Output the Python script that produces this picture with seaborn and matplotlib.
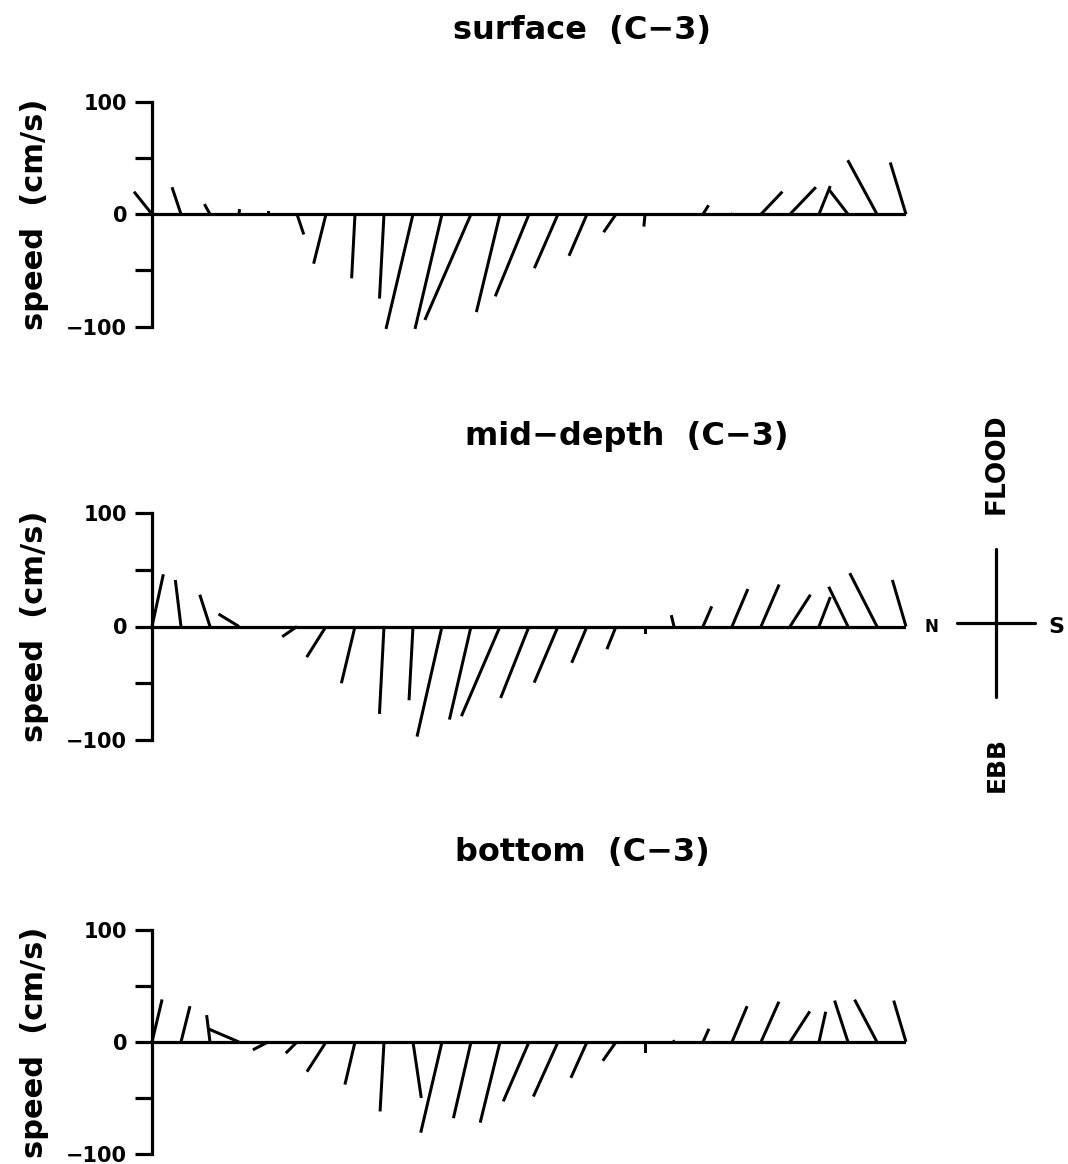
import numpy as np
import matplotlib
matplotlib.use("Agg")
import matplotlib.pyplot as plt
from matplotlib.lines import Line2D
import seaborn as sns

# hourly current sticks at station C-3 (u = along N-S, v = flood/ebb), cm/s
hours = np.arange(27)

surface_u = [-16, -8, -5, 0.5, 0, 6, -11, -3, -4, -24, -24, -41, -21, -30, -21, -16, -11, -1,
             0, 5, 0.5, 19, 23, 10, -17, -26, -14]
surface_v = [20, 24, 9, 4.5, 2.5, -18, -44, -57, -75, -102, -102, -94, -87, -73, -48, -37, -16, -11,
             0.5, 8, 1, 20, 24, 25, 22, 48, 46]

middepth_u = [10, -5, -9, -18, 0, -13, -17, -12, -4, -3.5, -22, -19, -34, -25, -21, -13.5, -8, 0,
              -2.4, 7.7, 14, 16, 18, 10, -17, -24, -12]
middepth_v = [46, 41, 28, 11, 0.5, -9, -27, -50, -77, -65, -97, -82, -79, -63, -49.5, -32, -20, -7,
              10, 17.7, 33, 37, 28, 26, 35, 47, 41]

bottom_u = [9, 8, -3, -28, -13.5, -10, -17, -9, -3.5, 7.4, -19, -15.7, -17.7, -23, -22, -14.4, -11.8, 0,
            -1, 5.3, 13.5, 16, 17.7, 6, -12, -20, -11]
bottom_v = [38, 32, 24, 12, -7, -10, -26.5, -38, -62, -50, -81, -68, -72, -53, -48.7, -32, -16.8, -9.5,
            1.5, 11.8, 32, 36, 27.4, 27, 37, 37.8, 37]

titles = ["surface  (C\u22123)", "mid\u2212depth  (C\u22123)", "bottom  (C\u22123)"]
us = [surface_u, middepth_u, bottom_u]
vs = [surface_v, middepth_v, bottom_v]

sns.set_style("ticks")
plt.rcParams['font.family'] = ['DejaVu Sans']
plt.rcParams.update({
    'font.weight': 'bold',
    'text.color': 'black',
    'axes.labelcolor': 'black',
    'axes.edgecolor': 'black',
    'ytick.color': 'black',
    'xtick.color': 'black',
})

W, H = 1068, 1164
fig = plt.figure(figsize=(W / 100, H / 100), dpi=100)

# pixel layout: (top of +100, bottom of -100, title x, title y)
rows = [(101.7, 326.7, 453, 30), (513, 740, 465, 437), (930, 1154, 455, 853)]
left_px, right_px = 152, 906
lw = 2.3

for (top, bot, tx, ty), title, u, v in zip(rows, titles, us, vs):
    ax = fig.add_axes([left_px / W, 1 - bot / H, (right_px - left_px) / W, (bot - top) / H])
    sns.lineplot(x=hours, y=np.zeros(len(hours)), ax=ax, color="black", lw=lw)
    ax.quiver(hours, np.zeros(len(hours)), u, v, angles="uv", scale_units="y", scale=1,
              headwidth=0, headlength=0, headaxislength=0, minlength=0,
              units="dots", width=3, color="black", pivot="tail", clip_on=False)
    ax.set_xlim(0, 26)
    ax.set_ylim(-100, 100)
    ax.set_facecolor("none")
    for s in ["top", "right", "bottom"]:
        ax.spines[s].set_visible(False)
    ax.spines["left"].set_linewidth(lw)
    ax.spines["left"].set_bounds(-100, 100)
    ax.set_xticks([])
    ax.set_yticks([-100, 0, 100])
    ax.set_yticklabels(["\u2212100", "0", "100"])
    ax.set_yticks([-50, 50], minor=True)
    ax.tick_params(axis="y", which="both", direction="out", length=12, width=lw,
                   labelsize=15, pad=6)
    ax.set_ylabel("")
    fig.text(tx / W, 1 - ty / H, title, ha="left", va="center", fontsize=23)
    zero_px = (top + bot) / 2
    fig.text(35 / W, 1 - zero_px / H, "speed  (cm/s)", rotation=90, ha="center",
             va="center", fontsize=22)

# flood / ebb compass
fig.add_artist(Line2D([996 / W, 996 / W], [1 - 549 / H, 1 - 697 / H], color="black", lw=lw))
fig.add_artist(Line2D([957 / W, 1035 / W], [1 - 623 / H, 1 - 623 / H], color="black", lw=lw))
fig.text(931 / W, 1 - 627 / H, "N", ha="center", va="center", fontsize=12)
fig.text(1056 / W, 1 - 627 / H, "S", ha="center", va="center", fontsize=16)
fig.text(997 / W, 1 - 464 / H, "FLOOD", rotation=90, ha="center", va="center", fontsize=19)
fig.text(997 / W, 1 - 764 / H, "EBB", rotation=90, ha="center", va="center", fontsize=18)

fig.savefig("out.png", dpi=100, facecolor="white")
